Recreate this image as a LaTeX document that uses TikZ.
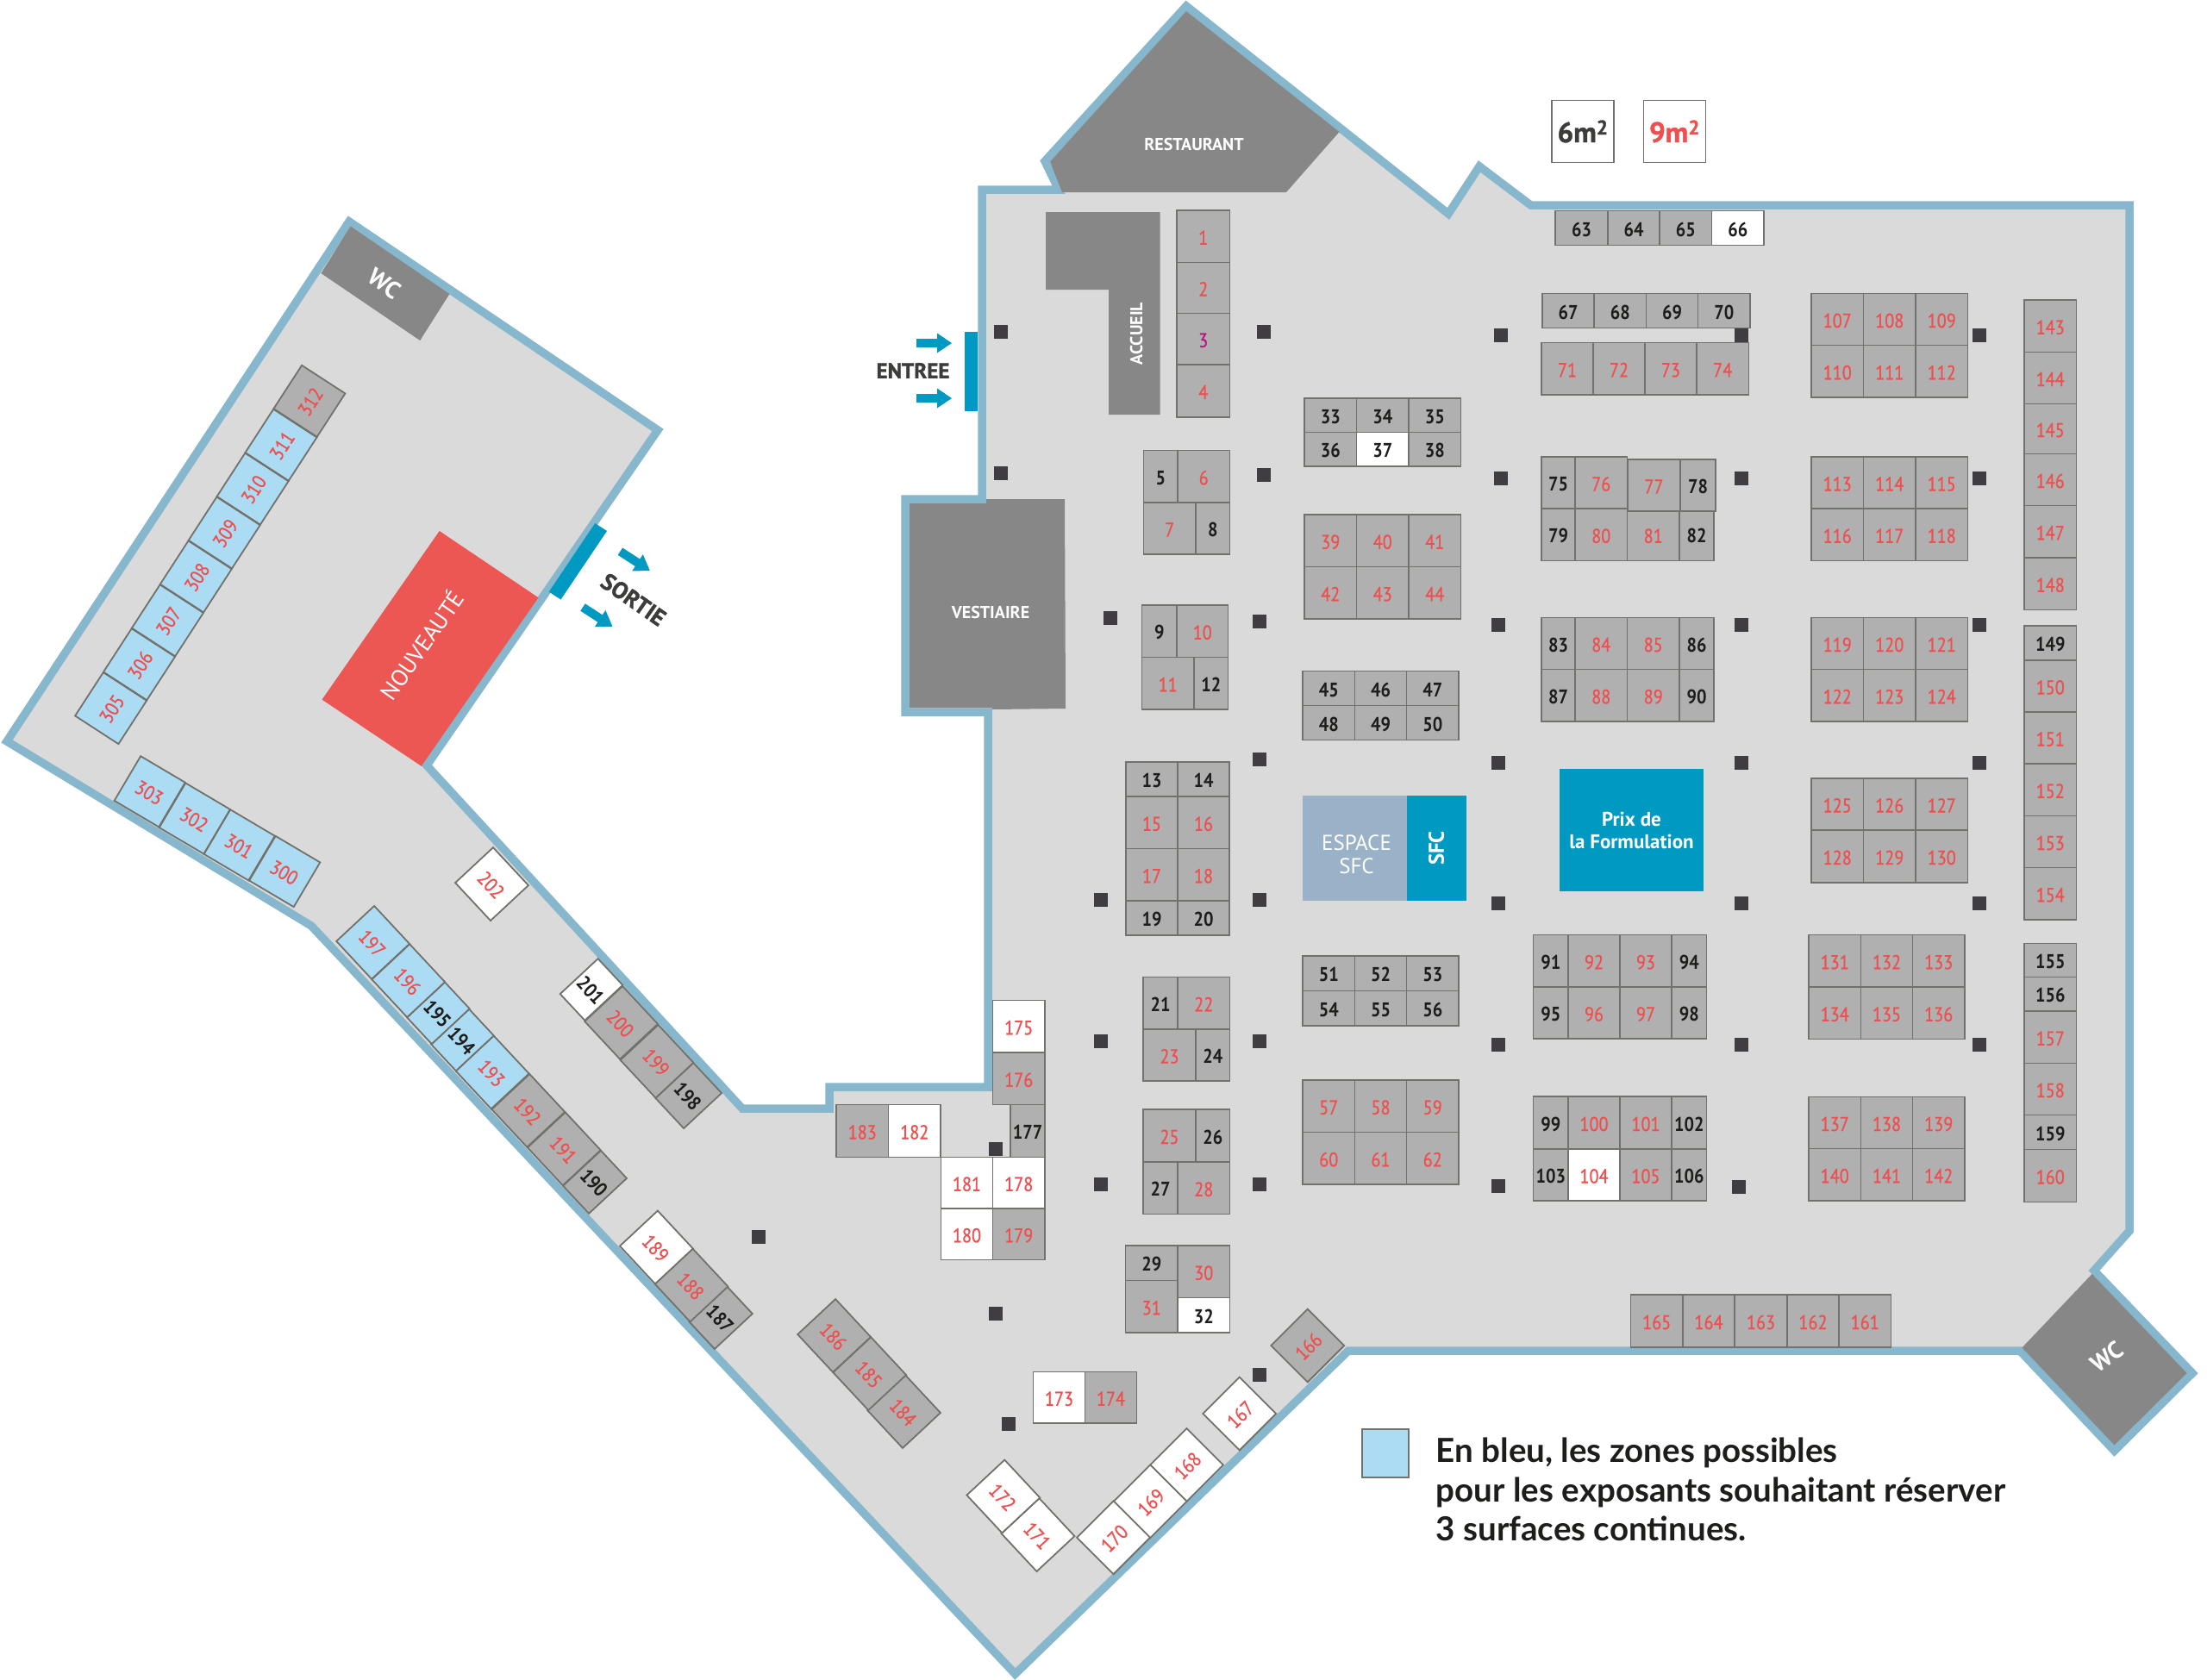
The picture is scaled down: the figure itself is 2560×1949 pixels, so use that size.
\documentclass[tikz,border=0pt]{standalone}
\usepackage{fontspec}
\setmainfont{PT Sans}
\newfontfamily\standfont[FakeStretch=0.88, UprightFeatures={FakeBold=0.8}]{PT Sans}
\newfontfamily\heavyfont[BoldFeatures={FakeBold=1.2}]{PT Sans}
\newfontfamily\legendfont{Lato}
\definecolor{hallgray}{HTML}{DADADA}
\definecolor{wallblue}{HTML}{86B7CC}
\definecolor{standgray}{HTML}{B0B0B0}
\definecolor{edgegray}{HTML}{72716B}
\definecolor{roomgray}{HTML}{878787}
\definecolor{labelred}{HTML}{EE5050}
\definecolor{labelblack}{HTML}{1D1D1B}
\definecolor{labelmagenta}{HTML}{B5197F}
\definecolor{zoneblue}{HTML}{ACDCF3}
\definecolor{entryblue}{HTML}{0099C1}
\definecolor{espaceblue}{HTML}{9AB2C8}
\definecolor{newred}{HTML}{EC5754}
\definecolor{pillargray}{HTML}{3F3D42}
\definecolor{signgray}{HTML}{3C3C3B}
\tikzset{
  treestand/.style = {draw=edgegray, line width=1.8pt, inner sep=0pt, outer sep=0pt,
    text height=19pt, text depth=0pt, font=\fontsize{23}{24}\standfont},
  gr_n/.style = {treestand, fill=standgray, text=labelblack, font=\fontsize{23}{24}\standfont\bfseries},
  gr_r/.style = {treestand, fill=standgray, text=labelred},
  gr_m/.style = {treestand, fill=standgray, text=labelmagenta},
  wh_n/.style = {treestand, fill=white, text=labelblack, font=\fontsize{23}{24}\standfont\bfseries},
  wh_r/.style = {treestand, fill=white, text=labelred},
  bl_n/.style = {treestand, fill=zoneblue, text=labelblack, font=\fontsize{23}{24}\standfont\bfseries},
  bl_r/.style = {treestand, fill=zoneblue, text=labelred},
  pillar/.style = {fill=pillargray, inner sep=0pt, minimum width=16pt, minimum height=16pt},
  roomlabel/.style = {text=white, inner sep=0pt, align=center, font=\fontsize{20}{24}\selectfont\bfseries},
  signlabel/.style = {text=signgray, inner sep=0pt, font=\fontsize{25}{28}\heavyfont\bfseries},
  surface/.style = {draw=edgegray, line width=1.8pt, inner sep=0pt, fill=white, minimum width=72pt, minimum height=72pt,
    font=\fontsize{33}{36}\heavyfont\bfseries},
  pics/fleche/.style = {code={
    \fill[entryblue] (0,-5) -- (24,-5) -- (24,-11.5) -- (41,0) -- (24,11.5) -- (24,5) -- (0,5) -- cycle;}}
}
\begin{document}
\begin{tikzpicture}[x=1pt,y=-1pt]
	\useasboundingbox (0,0) rectangle (2560,1949);
	% the hall
	\draw[fill=hallgray, draw=wallblue, line width=9.5pt, miter limit=20]
		(1139,220) -- (1228,220) -- (1212,187) -- (1376,7) -- (1680,248) -- (1716,193)
		-- (1775.5,238) -- (2470,238) -- (2470,1428) -- (2429,1474) -- (2543,1593)
		-- (2452.5,1683) -- (2343,1567) -- (1564,1567) -- (1177.5,1942) -- (361,1074)
		-- (8,860) -- (405,257) -- (763,499) -- (495,888) -- (861,1286) -- (962,1286)
		-- (962,1261) -- (1146,1261) -- (1146,826) -- (1050,826) -- (1050,579)
		-- (1139,579) -- cycle;
	% rooms
	\fill[roomgray] (1218,187.5) -- (1376,13) -- (1553.5,153) -- (1492,223) -- (1232,223) -- cycle;
	\node[roomlabel] (restaurant) at (1385,167) {RESTAURANT};
	\fill[roomgray] (1213,246) -- (1345.5,246) -- (1345.5,481) -- (1286,481) -- (1286,336) -- (1213,336) -- cycle;
	\node[roomlabel, rotate=90] (accueil) at (1318,387) {ACCUEIL};
	\fill[roomgray] (1055,584) -- (1144,584) -- (1144,579) -- (1235,579) -- (1236,822) -- (1151,823) -- (1151,821) -- (1055,821) -- cycle;
	\node[roomlabel] (vestiaire) at (1149,710) {VESTIAIRE};
	\fill[roomgray] (406.6,262.5) -- (521.4,341) -- (487.2,395) -- (372.4,317) -- cycle;
	\node[roomlabel, rotate=-35, font=\fontsize{28}{30}\selectfont\bfseries] (wcleft) at (446,329) {WC};
	\fill[roomgray] (2426.6,1478) -- (2536.7,1593) -- (2452.5,1676.5) -- (2345.5,1563.4) -- cycle;
	\node[roomlabel, rotate=35, font=\fontsize{28}{30}\selectfont\bfseries] (wcright) at (2443.5,1574) {WC};
	\fill[newred] (509.7,616) -- (624.5,693.3) -- (488.8,888.8) -- (373.5,811.6) -- cycle;
	\node[roomlabel, rotate=55, font=\fontsize{27}{30}\selectfont] (nouveaute) at (488.3,748) {NOUVEAUTÉ};
	% doors
	\fill[entryblue] (1119,385) rectangle (1134,476.5);
	\pic at (1063,398) {fleche};
	\pic at (1063,462) {fleche};
	\node[signlabel] (entree) at (1059,430) {ENTREE};
	\fill[entryblue] (690.3,607) -- (704,616) -- (650.5,695.5) -- (636.7,686.6) -- cycle;
	\pic[rotate=-33] at (719.4,639.7) {fleche};
	\pic[rotate=-33] at (676,704.5) {fleche};
	\node[signlabel, rotate=-35, font=\fontsize{27}{28}\heavyfont\bfseries] (sortie) at (734.7,695.5) {SORTIE};
	% pillars
	\foreach \x/\y [count=\i] in {1161/385,1466/385,1741/389,2020/389,2296/389,
		1161/549,1466/551,1741/555,2020/555,2296/555,
		1288/717,1461/721,1738/725,2020/725,2296/725,
		1461/881,1738/885,2020/885,2296/885,
		1277/1044,1461/1044,1738/1048,2020/1048,2296/1048,
		1277/1208,1461/1208,1738/1212,2020/1212,2296/1212,
		1277/1374,1461/1374,1738/1376,2017/1377,
		880/1435,1155/1332.5,1155/1524,1170/1651.5,1461/1595}
		\node[pillar] (p\i) at (\x,\y) {};
	% straight stands: number/left/top/width/height/style
	\foreach \n/\x/\y/\w/\h/\s in {
		1/1365/244/61.5/60.5/gr_r, 2/1365/304.5/61.5/59/gr_r, 3/1365/363.5/61.5/59.5/gr_m, 4/1365/423/61.5/61/gr_r,
		5/1326.5/522.5/39.5/60.5/gr_n, 6/1366/522.5/60.5/60.5/gr_r, 7/1326.5/583/60.5/60/gr_r, 8/1387/583/39.5/60/gr_n,
		9/1324.5/702/40.5/60.5/gr_n, 10/1365/702/59.5/60.5/gr_r, 11/1324.5/762.5/60.5/60.5/gr_r, 12/1385/762.5/39.5/60.5/gr_n,
		13/1306/884/60/40/gr_n, 14/1366/884/60/40/gr_n, 15/1306/924/60/60.5/gr_r, 16/1366/924/60/60.5/gr_r,
		17/1306/984.5/60/60.5/gr_r, 18/1366/984.5/60/60.5/gr_r, 19/1306/1045/60/40/gr_n, 20/1366/1045/60/40/gr_n,
		21/1326/1133.5/40/60.5/gr_n, 22/1366/1133.5/60.5/60.5/gr_r, 23/1326/1194/61/60/gr_r, 24/1387/1194/39.5/60/gr_n,
		25/1326/1287/61/61/gr_r, 26/1387/1287/39.5/61/gr_n, 27/1326/1348/40/60.5/gr_n, 28/1366/1348/60.5/60.5/gr_r,
		29/1305.5/1445/60.5/40.5/gr_n, 30/1366/1445/60.5/60.5/gr_r, 31/1305.5/1485.5/60.5/60.5/gr_r, 32/1366/1505.5/60.5/40.5/wh_n,
		33/1513/462/60.5/39.5/gr_n, 34/1573.5/462/60.5/39.5/gr_n, 35/1634/462/60.5/39.5/gr_n,
		36/1513/501.5/60.5/39.5/gr_n, 37/1573.5/501.5/60.5/39.5/wh_n, 38/1634/501.5/60.5/39.5/gr_n,
		39/1513/597/60.5/60.5/gr_r, 40/1573.5/597/60.5/60.5/gr_r, 41/1634/597/60.5/60.5/gr_r,
		42/1513/657.5/60.5/60.5/gr_r, 43/1573.5/657.5/60.5/60.5/gr_r, 44/1634/657.5/60.5/60.5/gr_r,
		45/1511/778.5/60.5/40/gr_n, 46/1571.5/778.5/60/40/gr_n, 47/1631.5/778.5/60.5/40/gr_n,
		48/1511/818.5/60.5/40/gr_n, 49/1571.5/818.5/60/40/gr_n, 50/1631.5/818.5/60.5/40/gr_n,
		51/1511/1109/60.5/40.5/gr_n, 52/1571.5/1109/60/40.5/gr_n, 53/1631.5/1109/60.5/40.5/gr_n,
		54/1511/1149.5/60.5/40.5/gr_n, 55/1571.5/1149.5/60/40.5/gr_n, 56/1631.5/1149.5/60.5/40.5/gr_n,
		57/1511/1253/60.5/60.5/gr_r, 58/1571.5/1253/60/60.5/gr_r, 59/1631.5/1253/60.5/60.5/gr_r,
		60/1511/1313.5/60.5/60.5/gr_r, 61/1571.5/1313.5/60/60.5/gr_r, 62/1631.5/1313.5/60.5/60.5/gr_r,
		63/1804/244.5/61/40/gr_n, 64/1865/244.5/60/40/gr_n, 65/1925/244.5/60.5/40/gr_n, 66/1985.5/244.5/60.5/40/wh_n,
		67/1789/340.5/60/40/gr_n, 68/1849/340.5/60.5/40/gr_n, 69/1909.5/340.5/60/40/gr_n, 70/1969.5/340.5/60.5/40/gr_n,
		71/1788/397.5/60/60.5/gr_r, 72/1848/397.5/60/60.5/gr_r, 73/1908/397.5/60/60.5/gr_r, 74/1968/397.5/60.5/60.5/gr_r,
		75/1788/530/39/60/gr_n, 76/1827/530/60.5/60/gr_r,
		79/1788/590/39/60.5/gr_n, 80/1827/590/60.5/60.5/gr_r, 81/1887.5/590/60.5/60.5/gr_r, 82/1948/590/40/60.5/gr_n,
		77/1888/533/61/60/gr_r, 78/1949/533/41/60/gr_n,
		83/1788/716.5/39/60/gr_n, 84/1827/716.5/60.5/60/gr_r, 85/1887.5/716.5/60.5/60/gr_r, 86/1948/716.5/40/60/gr_n,
		87/1788/776.5/39/60.5/gr_n, 88/1827/776.5/60.5/60.5/gr_r, 89/1887.5/776.5/60.5/60.5/gr_r, 90/1948/776.5/40/60.5/gr_n,
		91/1778.5/1084.5/40.5/60.5/gr_n, 92/1819/1084.5/60/60.5/gr_r, 93/1879/1084.5/60/60.5/gr_r, 94/1939/1084.5/40.5/60.5/gr_n,
		95/1778.5/1145/40.5/60/gr_n, 96/1819/1145/60/60/gr_r, 97/1879/1145/60/60/gr_r, 98/1939/1145/40.5/60/gr_n,
		99/1778.5/1272/40.5/61/gr_n, 100/1819/1272/60/61/gr_r, 101/1879/1272/60/61/gr_r, 102/1939/1272/40.5/61/gr_n,
		103/1778.5/1333/40.5/60/gr_n, 104/1819/1333/60/60/wh_r, 105/1879/1333/60/60/gr_r, 106/1939/1333/40.5/60/gr_n,
		107/2101/340.5/60.5/60/gr_r, 108/2161.5/340.5/60.5/60/gr_r, 109/2222/340.5/60.5/60/gr_r,
		110/2101/400.5/60.5/60.5/gr_r, 111/2161.5/400.5/60.5/60.5/gr_r, 112/2222/400.5/60.5/60.5/gr_r,
		113/2101/530/60.5/60/gr_r, 114/2161.5/530/60.5/60/gr_r, 115/2222/530/60.5/60/gr_r,
		116/2101/590/60.5/60.5/gr_r, 117/2161.5/590/60.5/60.5/gr_r, 118/2222/590/60.5/60.5/gr_r,
		119/2101/716.5/60.5/60/gr_r, 120/2161.5/716.5/60.5/60/gr_r, 121/2222/716.5/60.5/60/gr_r,
		122/2101/776.5/60.5/60.5/gr_r, 123/2161.5/776.5/60.5/60.5/gr_r, 124/2222/776.5/60.5/60.5/gr_r,
		125/2101/903/60.5/60/gr_r, 126/2161.5/903/60.5/60/gr_r, 127/2222/903/60.5/60/gr_r,
		128/2101/963/60.5/61/gr_r, 129/2161.5/963/60.5/61/gr_r, 130/2222/963/60.5/61/gr_r,
		131/2098/1084.5/60.5/60.5/gr_r, 132/2158.5/1084.5/60/60.5/gr_r, 133/2218.5/1084.5/60.5/60.5/gr_r,
		134/2098/1145/60.5/60.5/gr_r, 135/2158.5/1145/60/60.5/gr_r, 136/2218.5/1145/60.5/60.5/gr_r,
		137/2098/1272.5/60.5/60/gr_r, 138/2158.5/1272.5/60/60/gr_r, 139/2218.5/1272.5/60.5/60/gr_r,
		140/2098/1332.5/60.5/60.5/gr_r, 141/2158.5/1332.5/60/60.5/gr_r, 142/2218.5/1332.5/60.5/60.5/gr_r,
		143/2348/348/60.5/60.5/gr_r, 144/2348/408.5/60.5/60/gr_r, 145/2348/468.5/60.5/58/gr_r,
		146/2348/526.5/60.5/60/gr_r, 147/2348/586.5/60.5/60.5/gr_r, 148/2348/647/60.5/60.5/gr_r,
		149/2348/726/60.5/40/gr_n, 150/2348/766/60.5/60/gr_r, 151/2348/826/60.5/60/gr_r,
		152/2348/886/60.5/60.5/gr_r, 153/2348/946.5/60.5/60/gr_r, 154/2348/1006.5/60.5/60.5/gr_r,
		155/2348/1094.5/60.5/39/gr_n, 156/2348/1133.5/60.5/39.5/gr_n, 157/2348/1173/60.5/60.5/gr_r,
		158/2348/1233.5/60.5/60/gr_r, 159/2348/1293.5/60.5/40/gr_n, 160/2348/1333.5/60.5/61/gr_r,
		161/2133/1502/60.5/61/gr_r, 162/2073/1502/60/61/gr_r, 163/2012/1502/61/61/gr_r, 164/1952/1502/60/61/gr_r, 165/1891.5/1502/60.5/61/gr_r,
		173/1198.5/1591.5/60/59.5/wh_r, 174/1258.5/1591.5/60/59.5/gr_r,
		175/1151.5/1160.5/60.5/60.5/wh_r, 176/1151.5/1221/60.5/60.5/gr_r, 177/1172/1281.5/40/61/gr_n,
		178/1151.5/1342.5/60.5/59.5/wh_r, 179/1151.5/1402/60.5/59.5/gr_r, 180/1091.5/1402/60/59.5/wh_r,
		181/1091.5/1342.5/60/59.5/wh_r, 182/1030.5/1281.5/60.5/61/wh_r, 183/970/1281.5/60.5/61/gr_r}
		\node[\s, anchor=north west, minimum width=\w pt, minimum height=\h pt] (s\n) at (\x,\y) {\n};
	% turned stands: number/centre x/centre y/width/angle/style
	\foreach \n/\x/\y/\w/\a/\s in {
		166/1516.8/1561/60/45/gr_r, 167/1437.8/1640/60/45/wh_r, 168/1376.5/1699.5/60/45/wh_r,
		169/1334.2/1741.8/60/45/wh_r, 170/1291.6/1783.7/60/45/wh_r,
		171/1204/1780.6/60/-47/wh_r, 172/1163.8/1736/60/-47/wh_r,
		184/1048.5/1637.5/60/-47/gr_r, 185/1008.7/1593.6/60/-47/gr_r, 186/967.6/1549.5/60/-47/gr_r,
		187/836.2/1528.8/43/-47/gr_n, 188/802/1491/60/-47/gr_r, 189/761.4/1447/60/-47/wh_r,
		190/690/1371.3/44/-47/gr_n, 191/654.3/1332.8/60/-47/gr_r, 192/612.8/1288.4/60/-47/gr_r,
		193/571.2/1244/60/-47/bl_r, 194/536.5/1206.5/42/-47/bl_n, 195/508.4/1175.3/42/-47/bl_n,
		196/473.7/1137.7/60/-47/bl_r, 197/432.6/1093.4/60/-47/bl_r,
		198/798.7/1271/48/-47/gr_n, 199/762/1231.3/60/-47/gr_r, 200/720.6/1186.4/60/-47/gr_r,
		201/686/1148/42/-47/wh_n, 202/570.5/1025.6/60/-47/wh_r,
		300/330.2/1011/60/-30.6/bl_r, 301/277.7/980.3/60/-30.6/bl_r, 302/225.8/949.5/60/-30.6/bl_r, 303/173.7/918.3/60/-30.6/bl_r,
		305/128.6/821.6/60/57/bl_r, 306/161.5/770.7/60/57/bl_r, 307/194.4/719.8/60/57/bl_r, 308/227.3/668.9/60/57/bl_r,
		309/260.2/618/60/57/bl_r, 310/293.1/567.1/60/57/bl_r, 311/326/516.2/60/57/bl_r, 312/358.9/465.3/60/57/gr_r}
		\node[\s, rotate=\a, minimum width=\w pt, minimum height=60pt] (s\n) at (\x,\y) {\n};
	% blue blocks
	\fill[espaceblue] (1511,923) rectangle (1631.5,1045);
	\node[roomlabel, font=\fontsize{25}{27}\selectfont] (espace) at (1573.5,991) {ESPACE\\SFC};
	\node[roomlabel, fill=entryblue, rotate=90, minimum width=122pt, minimum height=69pt,
		font=\fontsize{25}{27}\selectfont\bfseries] (sfc) at (1666,984) {SFC};
	\node[roomlabel, fill=entryblue, minimum width=167pt, minimum height=141.6pt,
		font=\fontsize{23}{26}\selectfont\bfseries] (prix) at (1892.5,963) {Prix de\\la Formulation};
	% surfaces
	\node[surface, text=signgray] (six) at (1836,152.5) {6m\textsuperscript{2}};
	\node[surface, text=labelred] (neuf) at (1942.5,152.5) {9m\textsuperscript{2}};
	% legend
	\node[treestand, fill=zoneblue, anchor=north west, text height=0pt, minimum width=54pt, minimum height=56pt] (legende) at (1580,1658) {};
	\node[anchor=west, inner sep=0pt, align=left, text=labelblack, font=\fontsize{38.5}{45.7}\legendfont\bfseries] (legendetxt) at (1665.7,1728)
		{En bleu, les zones possibles\\pour les exposants souhaitant réserver\\3 surfaces continues.};
\end{tikzpicture}
\end{document}
